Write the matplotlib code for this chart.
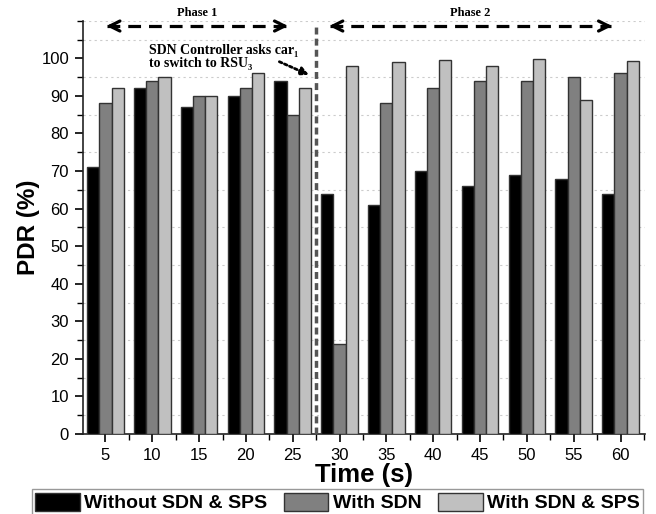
import matplotlib
matplotlib.use("Agg")
import matplotlib.pyplot as plt
import numpy as np
from matplotlib.ticker import MultipleLocator

plt.rcParams['font.family'] = ['Liberation Sans', 'DejaVu Sans']

times = [5, 10, 15, 20, 25, 30, 35, 40, 45, 50, 55, 60]
without_sdn_sps = [71, 92, 87, 90, 94, 64, 61, 70, 66, 69, 68, 64]
with_sdn = [88, 94, 90, 92, 85, 24, 88, 92, 94, 94, 95, 96]
with_sdn_sps = [92, 95, 90, 96, 92, 98, 99, 99.6, 98, 99.8, 89, 99.2]
series_names = ["Without SDN & SPS", "With SDN", "With SDN & SPS"]

colors = ["#000000", "#808080", "#c0c0c0"]

fig = plt.figure(figsize=(6.56, 5.14), dpi=100)
ax = fig.add_axes([0.1265, 0.1556, 0.8565, 0.804])

x = np.array(times, dtype=float)
w = 1.3
for i, (vals, c, name) in enumerate(zip([without_sdn_sps, with_sdn, with_sdn_sps], colors, series_names)):
    ax.bar(x + (i - 1) * w, vals, width=w, color=c, edgecolor="#333333",
           linewidth=1.0, label=name, zorder=3)

ax.set_xlim(2.6, 62.6)
ax.set_ylim(0, 110)
ax.set_xticks(times)
ax.xaxis.set_minor_locator(MultipleLocator(2.5))
ax.yaxis.set_major_locator(MultipleLocator(10))
ax.yaxis.set_minor_locator(MultipleLocator(5))
ax.set_yticks(np.arange(0, 101, 10))
ax.tick_params(axis='both', which='major', direction='out', length=6, width=1.2, labelsize=12, pad=4)
ax.tick_params(axis='both', which='minor', direction='out', length=4, width=1.0)
ax.grid(which='minor', axis='y', linestyle=(0, (2, 3)), color='#cccccc', linewidth=0.8, zorder=0)
for s in ['top', 'right']:
    ax.spines[s].set_visible(False)
for s in ['left', 'bottom']:
    ax.spines[s].set_linewidth(1.2)
    ax.spines[s].set_color('#222222')

ax.set_ylabel("PDR (%)", fontsize=17.5, fontweight='bold', labelpad=1)
ax.set_xlabel("Time (s)", fontsize=18.5, fontweight='bold', labelpad=0)

# vertical phase separator
ax.plot([27.5, 27.5], [0, 109.5], color='#555555', linestyle=(0, (2, 1.2)), linewidth=2.5, zorder=4, clip_on=False)

serif = ['Liberation Serif', 'DejaVu Serif']

def phase_arrow(x0, x1, y, label):
    ax.plot([x0 + 0.4, x1 - 0.4], [y, y], color='black', linestyle=(0, (4, 2.5)), linewidth=2.3, clip_on=False, zorder=5)
    for a, b in [(x0 + 1.5, x0), (x1 - 1.5, x1)]:
        ax.annotate("", xy=(b, y), xytext=(a, y), annotation_clip=False,
                    arrowprops=dict(arrowstyle='->', lw=2.3, color='black', mutation_scale=18))
    ax.text((x0 + x1) / 2, y + 1.8, label, ha='center', va='bottom', fontsize=9,
            fontweight='bold', family=serif, clip_on=False)

phase_arrow(4.8, 24.8, 108.6, "Phase 1")
phase_arrow(28.6, 59.4, 108.6, "Phase 2")

ax.text(9.7, 100.3, "SDN Controller asks car\u2081\nto switch to RSU\u2083", ha='left', va='center',
        fontsize=10, fontweight='bold', family=serif, linespacing=1.0, zorder=6)
ax.annotate("", xy=(27.0, 95.3), xytext=(23.3, 99.4),
            arrowprops=dict(arrowstyle='-|>', linestyle=(0, (1, 1)), lw=2.0, color='black', mutation_scale=12),
            zorder=6)

leg = fig.legend(loc='upper center', bbox_to_anchor=(0.5145, 1 - 489 / 514), ncol=3, frameon=True,
                 fancybox=False, edgecolor='#999999', framealpha=1,
                 prop={'size': 14, 'weight': 'bold'}, handlelength=2.27, handleheight=1.03,
                 handletextpad=0.22, columnspacing=0.88, borderpad=0.2, borderaxespad=0)
leg.get_frame().set_linewidth(1.0)

fig.savefig("out.png", dpi=100)
